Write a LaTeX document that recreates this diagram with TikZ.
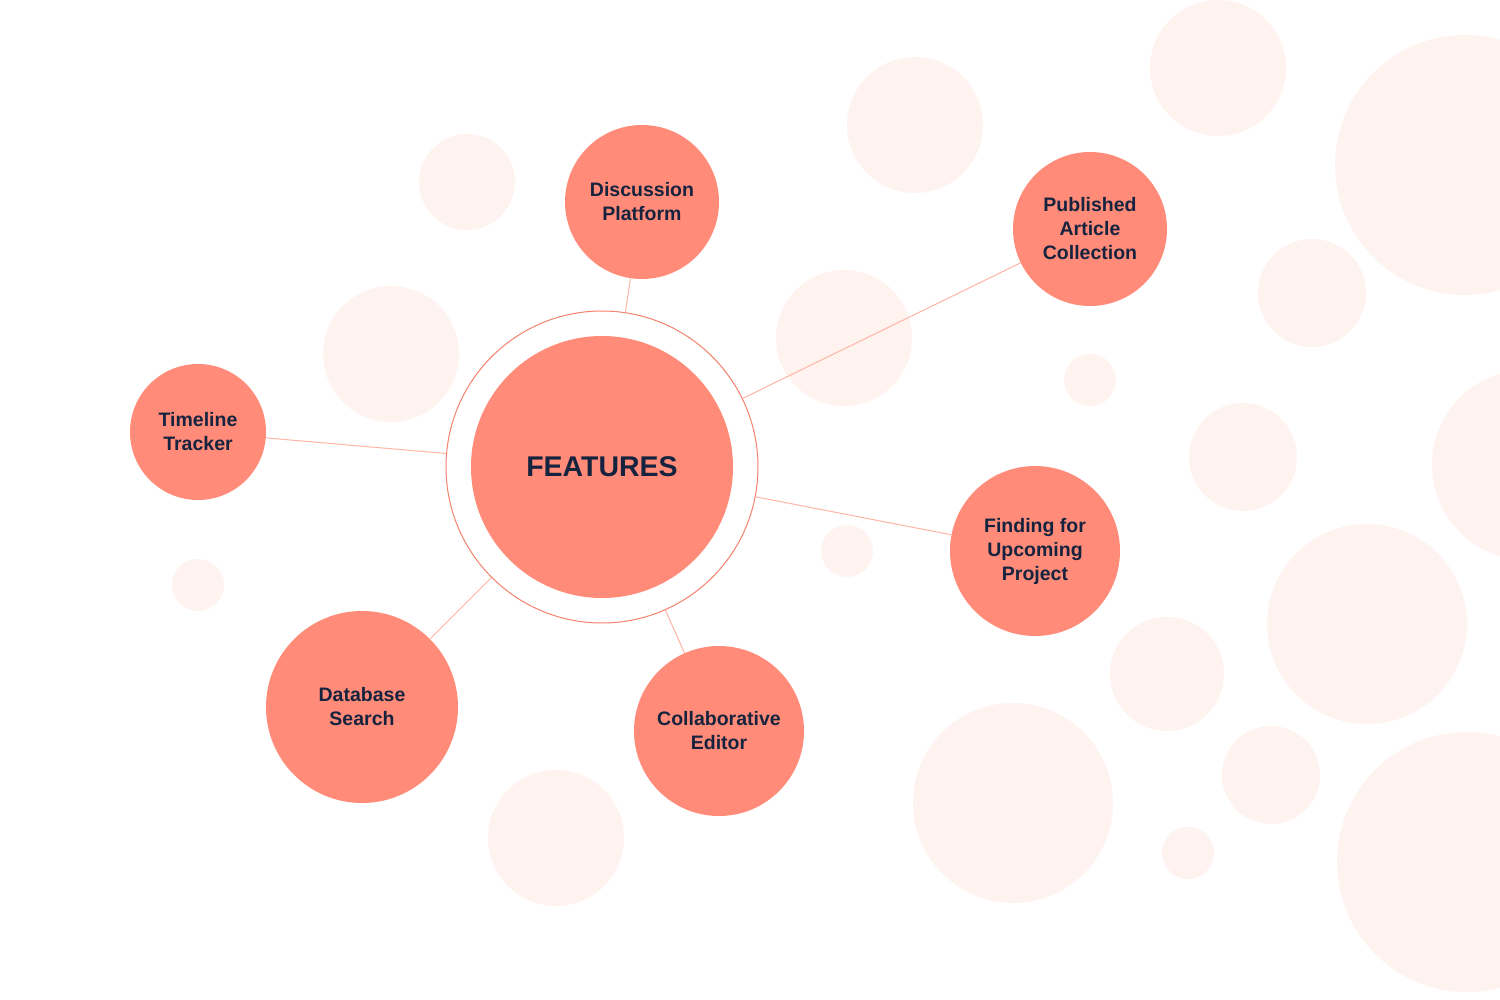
\documentclass[tikz,border=0pt]{standalone}
\usepackage{fontspec}
\setmainfont{Liberation Sans}
\usepackage{tikz}
\usetikzlibrary{positioning}
\definecolor{nodeclr}{RGB}{255,139,120}
\definecolor{ringclr}{RGB}{245,130,110}
\definecolor{linkclr}{RGB}{255,180,166}
\definecolor{blobclr}{RGB}{255,243,240}
\definecolor{textclr}{RGB}{22,35,62}

\begin{document}
\begin{tikzpicture}[
    x=1pt,
    y=-1pt,
    feature/.style={circle, fill=nodeclr, draw=none, inner sep=0pt, align=center, text=textclr, font=\fontsize{19.5}{24}\selectfont\bfseries},
    ring/.style={circle, draw=ringclr, line width=1pt, fill=white, inner sep=0pt},
    link/.style={draw=linkclr, line width=1pt}
]

% Canvas.
\useasboundingbox (0,0) rectangle (1500,1000);
\clip (0,0) rectangle (1500,1000);
\fill[white] (0,0) rectangle (1500,1000);

% Background bubbles.
\foreach \bx/\by/\br in {467/182/48, 915/125/68, 1218/68/68, 1465/165/130, 1312/293/54,
    391/354/68, 844/338/68, 1090/380/26, 1243/457/54, 1527/465/95, 847/551/26,
    198/585/26, 1367/624/100, 1167/674/57, 1271/775/49, 1013/803/100, 1188/853/26,
    556/838/68, 1467/862/130}
    \fill[blobclr] (\bx,\by) circle (\br);

% Hub.
\node[ring, minimum size=312pt] (hub) at (602,467) {};

% Features.
\node[feature, minimum size=154pt] (discussion) at (642,202) {Discussion\\Platform};
\node[feature, minimum size=154pt] (published) at (1090,229) {Published\\Article\\Collection};
\node[feature, minimum size=136pt] (timeline) at (198,432) {Timeline\\Tracker};
\node[feature, minimum size=170pt] (finding) at (1035,551) {Finding for\\Upcoming\\Project};
\node[feature, minimum size=192pt] (database) at (362,707) {Database\\Search};
\node[feature, minimum size=170pt] (collab) at (719,731) {Collaborative\\Editor};

% Links.
\draw[link] (hub) -- (discussion);
\draw[link] (hub) -- (published);
\draw[link] (hub) -- (timeline);
\draw[link] (hub) -- (finding);
\draw[link] (hub) -- (database);
\draw[link] (hub) -- (collab);

% Core.
\node[feature, minimum size=262pt, font=\fontsize{28.5}{34}\selectfont\bfseries] (core) at (hub.center) {FEATURES};

\end{tikzpicture}
\end{document}
